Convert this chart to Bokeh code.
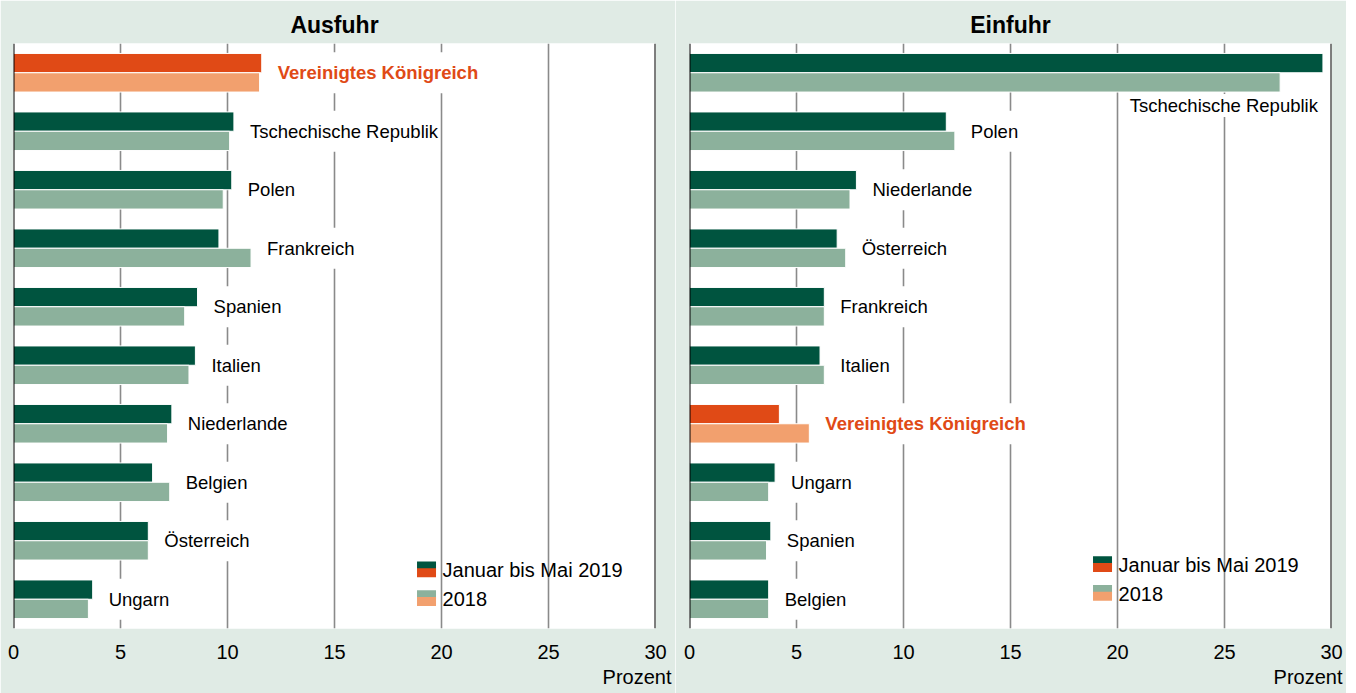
from bokeh.plotting import figure
from bokeh.layouts import row
from bokeh.models import Range1d, FixedTicker, Span, Title, ColumnDataSource
from bokeh.transform import dodge
from bokeh.core.properties import value
from bokeh.embed import file_html
from bokeh.resources import INLINE

# ---------------- data ----------------
titles = ["Ausfuhr", "Einfuhr"]
unit_label = "Prozent"
legend_labels = ["Januar bis Mai 2019", "2018"]
highlight = "Vereinigtes Königreich"
x_ticks = [0, 5, 10, 15, 20, 25, 30]

ex_countries = ["Vereinigtes Königreich", "Tschechische Republik", "Polen", "Frankreich",
                "Spanien", "Italien", "Niederlande", "Belgien", "Österreich", "Ungarn"]
ex_2019 = [11.6, 10.3, 10.2, 9.6, 8.6, 8.5, 7.4, 6.5, 6.3, 3.7]
ex_2018 = [11.5, 10.1, 9.8, 11.1, 8.0, 8.2, 7.2, 7.3, 6.3, 3.5]

im_countries = ["Tschechische Republik", "Polen", "Niederlande", "Österreich", "Frankreich",
                "Italien", "Vereinigtes Königreich", "Ungarn", "Spanien", "Belgien"]
im_2019 = [29.6, 12.0, 7.8, 6.9, 6.3, 6.1, 4.2, 4.0, 3.8, 3.7]
im_2018 = [27.6, 12.4, 7.5, 7.3, 6.3, 6.3, 5.6, 3.7, 3.6, 3.7]

# ---------------- style ----------------
BG = "#e0ebe5"
C19 = "#00543f"
C18 = "#8cb19c"
H19 = "#e04a16"
H18 = "#f2a06e"
FONT = "Liberation Sans"


def make_panel(title, countries, v19, v18, b_left, b_right, legend_y, unit_offset):
    n = len(countries)
    ys = list(range(n))
    p = figure(width=b_left + 642 + b_right, height=693, output_backend="svg",
               toolbar_location=None,
               x_range=Range1d(0, 30), y_range=Range1d(n - 0.5, -0.5),
               y_axis_location=None, min_border_left=b_left, min_border_right=b_right,
               min_border_top=43, min_border_bottom=65)
    p.border_fill_color = BG
    p.background_fill_color = "white"
    p.outline_line_color = None

    p.title.text = title
    p.title.align = "center"
    p.title.text_font = FONT
    p.title.text_font_size = "23px"
    p.title.text_font_style = "bold"
    p.title.text_color = "black"
    p.title.standoff = 12

    # x axis
    ax = p.xaxis[0]
    ax.ticker = FixedTicker(ticks=x_ticks)
    ax.axis_line_color = None
    ax.major_tick_line_color = None
    ax.minor_tick_line_color = None
    ax.major_tick_out = 0
    ax.major_label_standoff = 16
    ax.major_label_text_font = FONT
    ax.major_label_text_font_size = "20px"
    ax.major_label_text_color = "black"
    p.add_layout(Title(text=unit_label, align="right", offset=unit_offset, standoff=5,
                       text_font=FONT, text_font_size="20px", text_font_style="normal",
                       text_color="black"), "below")

    p.xgrid.grid_line_color = "#8a8a8a"
    p.xgrid.grid_line_width = 1.6
    p.ygrid.grid_line_color = None

    c19 = [H19 if c == highlight else C19 for c in countries]
    c18 = [H18 if c == highlight else C18 for c in countries]
    src = ColumnDataSource(dict(y=ys, v19=v19, v18=v18, c19=c19, c18=c18))
    p.hbar(y=dodge("y", -0.165, range=p.y_range), left=0, right="v19", height=0.33,
           fill_color="c19", line_color="white", line_width=1, source=src)
    p.hbar(y=dodge("y", 0.165, range=p.y_range), left=0, right="v18", height=0.33,
           fill_color="c18", line_color="white", line_width=1, source=src)

    # category labels
    right_lab = dict(x=[], y=[], t=[], col=[], sty=[])
    below_lab = dict(x=[], y=[], t=[], col=[], sty=[])
    for i, c in enumerate(countries):
        m = max(v19[i], v18[i])
        d = below_lab if m > 25 else right_lab
        d["x"].append(m)
        d["y"].append(i + 0.56 if m > 25 else i)
        d["t"].append(c)
        d["col"].append(H19 if c == highlight else "black")
        d["sty"].append("bold" if c == highlight else "normal")
    pad = dict(left=2, right=2, top=10, bottom=10)
    p.text(x="x", y="y", text="t", text_color="col", text_font_style="sty",
           text_font=value(FONT), text_font_size="18.5px", text_align="left",
           text_baseline="middle", x_offset=14, background_fill_color="white",
           padding=pad, source=ColumnDataSource(right_lab))
    if below_lab["x"]:
        p.text(x="x", y="y", text="t", text_color="col", text_font_style="sty",
               text_font=value(FONT), text_font_size="18.5px", text_align="right",
               text_baseline="middle", x_offset=-3, background_fill_color="white",
               padding=dict(left=2, right=2, top=1, bottom=1),
               source=ColumnDataSource(below_lab))

    # frame lines
    p.add_layout(Span(location=0, dimension="height", line_color="black", line_width=2))
    p.add_layout(Span(location=30, dimension="height", line_color="black", line_width=2))

    # legend (split swatches)
    lx = 19.3
    half = 0.077
    for k, (lab, ctop, cbot) in enumerate([(legend_labels[0], C19, H19),
                                            (legend_labels[1], C18, H18)]):
        ly = legend_y[k]
        p.rect(x=[lx], y=[ly - half / 2], width=19, height=9, width_units="screen",
               height_units="screen", fill_color=ctop, line_color=None)
        p.rect(x=[lx], y=[ly + half], width=19, height=9, width_units="screen",
               height_units="screen", fill_color=cbot, line_color=None)
        p.text(x=[lx], y=[ly + half / 2], text=[lab], x_offset=16, text_font=value(FONT),
               text_font_size="20px", text_baseline="middle", text_align="left",
               text_color="black")
    return p


p1 = make_panel(titles[0], ex_countries, ex_2019, ex_2018, 13, 20, [8.47, 8.96], -16)
p2 = make_panel(titles[1], im_countries, im_2019, im_2018, 14, 15, [8.38, 8.87], -11)

layout = row(p1, p2)
open("out.html", "w").write(file_html(layout, INLINE))
